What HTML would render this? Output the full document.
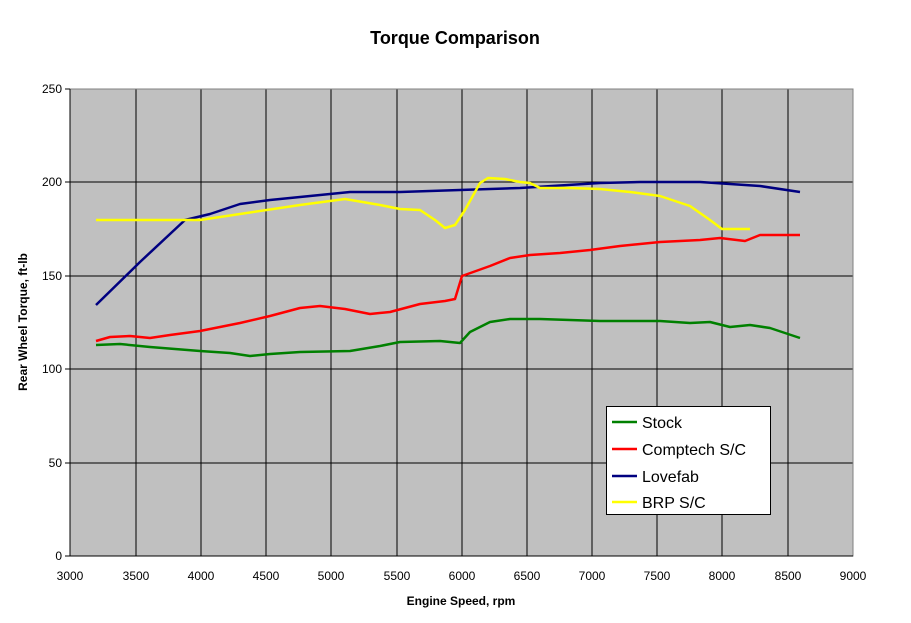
<!DOCTYPE html>
<html><head><meta charset="utf-8"><style>body{margin:0;background:#fff}svg{display:block}</style></head><body>
<svg width="911" height="623" xmlns="http://www.w3.org/2000/svg" font-family="Liberation Sans, sans-serif">
<rect width="911" height="623" fill="#fff"/>
<text x="455" y="44" text-anchor="middle" font-size="18" font-weight="bold">Torque Comparison</text>
<rect x="70" y="89" width="783" height="467" fill="#c0c0c0"/>
<g stroke="#000" stroke-width="1">
<line x1="70" y1="182" x2="853" y2="182"/><line x1="70" y1="276" x2="853" y2="276"/><line x1="70" y1="369" x2="853" y2="369"/><line x1="70" y1="463" x2="853" y2="463"/>
<line x1="136" y1="89" x2="136" y2="556"/><line x1="201" y1="89" x2="201" y2="556"/><line x1="266" y1="89" x2="266" y2="556"/><line x1="331" y1="89" x2="331" y2="556"/><line x1="397" y1="89" x2="397" y2="556"/><line x1="462" y1="89" x2="462" y2="556"/><line x1="527" y1="89" x2="527" y2="556"/><line x1="592" y1="89" x2="592" y2="556"/><line x1="657" y1="89" x2="657" y2="556"/><line x1="722" y1="89" x2="722" y2="556"/><line x1="788" y1="89" x2="788" y2="556"/>
</g>
<rect x="70" y="89" width="783" height="467" fill="none" stroke="#808080"/>
<line x1="70" y1="89" x2="70" y2="556" stroke="#000"/><line x1="70" y1="556" x2="853" y2="556" stroke="#000"/>
<g stroke="#000">
<line x1="65" y1="89" x2="70" y2="89"/><line x1="65" y1="182" x2="70" y2="182"/><line x1="65" y1="276" x2="70" y2="276"/><line x1="65" y1="369" x2="70" y2="369"/><line x1="65" y1="463" x2="70" y2="463"/><line x1="65" y1="556" x2="70" y2="556"/>
</g>
<g font-size="12" text-anchor="end">
<text x="62" y="93">250</text><text x="62" y="186">200</text><text x="62" y="280">150</text><text x="62" y="373">100</text><text x="62" y="467">50</text><text x="62" y="560">0</text>
</g>
<g font-size="12" text-anchor="middle">
<text x="70" y="580">3000</text><text x="136" y="580">3500</text><text x="201" y="580">4000</text><text x="266" y="580">4500</text><text x="331" y="580">5000</text><text x="397" y="580">5500</text><text x="462" y="580">6000</text><text x="527" y="580">6500</text><text x="592" y="580">7000</text><text x="657" y="580">7500</text><text x="722" y="580">8000</text><text x="788" y="580">8500</text><text x="853" y="580">9000</text>
</g>
<text x="461" y="605" text-anchor="middle" font-size="12" font-weight="bold">Engine Speed, rpm</text>
<text transform="translate(27,322) rotate(-90)" text-anchor="middle" font-size="12" font-weight="bold">Rear Wheel Torque, ft-lb</text>
<g fill="none" stroke-width="2.5" stroke-linejoin="round">
<polyline stroke="#008000" points="96,345 120,344 150,347 200,351 230,353 250,356 270,354 300,352 350,351 380,346 400,342 440,341 460,343 470,332 490,322 510,319 540,319 600,321 660,321 690,323 710,322 730,327 750,325 770,328 800,338"/>
<polyline stroke="#ff0000" points="96,341 110,337 130,336 150,338 170,335 200,331 240,323 270,316 300,308 320,306 345,309 370,314 390,312 420,304 445,301 455,299 462,276 490,266 510,258 530,255 560,253 590,250 620,246 660,242 700,240 720,238 745,241 760,235 800,235"/>
<polyline stroke="#000080" points="96,305 140,262 185,220 210,214 240,204 270,200 310,196 350,192 400,192 460,190 520,188 600,183 640,182 700,182 760,186 800,192"/>
<polyline stroke="#ffff00" points="96,220 200,220 240,214 300,205 345,199 380,205 400,209 420,210 435,220 445,228 455,225 465,210 480,183 488,178 505,179 520,182 530,183 540,188 570,188 600,189 630,192 660,196 690,206 710,220 722,229 750,229"/>
</g>
<rect x="606.5" y="406.5" width="164" height="108" fill="#fff" stroke="#000"/>
<g stroke-width="2.5">
<line x1="612" y1="422" x2="637" y2="422" stroke="#008000"/>
<line x1="612" y1="449" x2="637" y2="449" stroke="#ff0000"/>
<line x1="612" y1="476" x2="637" y2="476" stroke="#000080"/>
<line x1="612" y1="502" x2="637" y2="502" stroke="#ffff00"/>
</g>
<g font-size="16">
<text x="642" y="428">Stock</text><text x="642" y="455">Comptech S/C</text><text x="642" y="482">Lovefab</text><text x="642" y="508">BRP S/C</text>
</g>
</svg>
</body></html>
